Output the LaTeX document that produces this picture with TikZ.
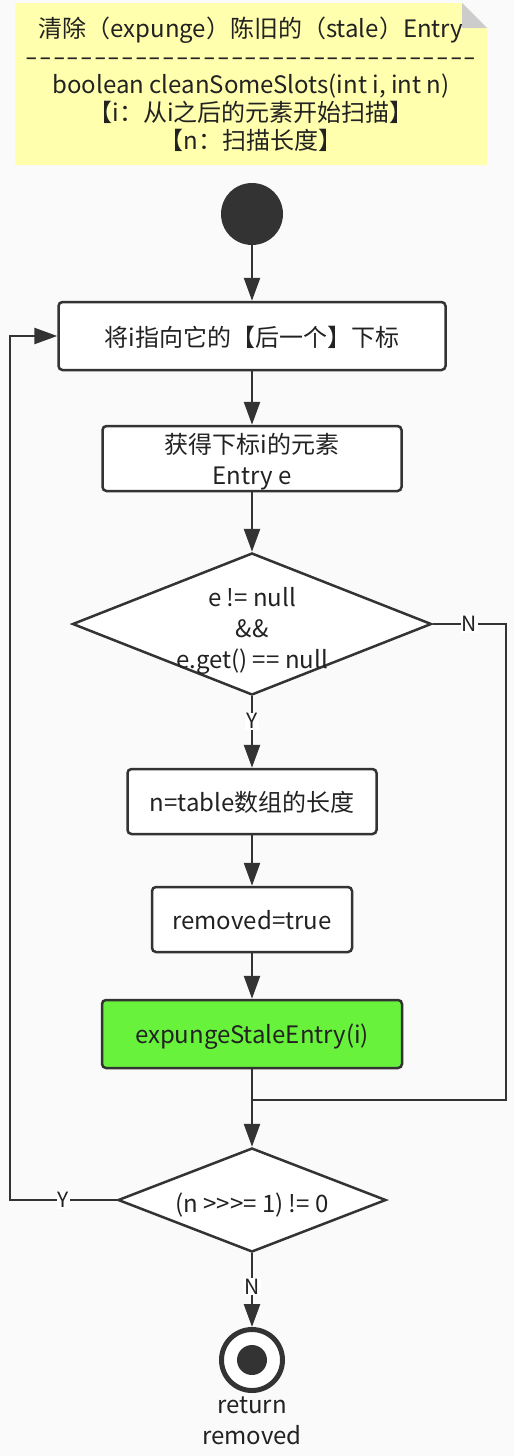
\documentclass[tikz,border=0pt]{standalone}
\usepackage{fontspec}
\setmainfont{Noto Sans CJK SC}
\usetikzlibrary{arrows.meta,shapes.geometric}
\definecolor{ln}{HTML}{333333}
\definecolor{tx}{HTML}{222222}
\definecolor{bg}{HTML}{FAFAFA}
\definecolor{notefill}{HTML}{FFFFAD}
\definecolor{foldgray}{HTML}{CCCCCC}
\definecolor{hl}{HTML}{68F23C}
\newcommand\dashrow{\foreach \k in {1,...,32}{\scalebox{1.5}[1]{-}\kern1.2pt}\scalebox{1.5}[1]{-}}
\begin{document}
\begin{tikzpicture}[x=1pt,y=-1pt,
  every node/.style={font=\fontsize{24}{31}\selectfont, text=tx},
  proc/.style={draw=ln, line width=2.5pt, rounded corners=4pt, fill=white, align=center, inner sep=0pt, text depth=0pt},
  dia/.style={diamond, draw=ln, line width=2.5pt, fill=white, inner sep=0pt},
  arr/.style={draw=ln, line width=2.5pt, -{Triangle[width=16pt,length=23pt]}},
  conn/.style={draw=ln, line width=2.5pt},
  lab/.style={fill=white, inner sep=1pt, font=\fontsize{21}{22}\selectfont}
]
\fill[bg] (0,0) rectangle (514,1456);
\useasboundingbox (0,0) rectangle (514,1456);
% note
\fill[notefill] (15,3) -- (462,3) -- (487,28) -- (487,165) -- (15,165) -- cycle;
\fill[foldgray] (462,3) -- (487,28) -- (462,28) -- cycle;
\node[align=center, font=\fontsize{24}{28}\selectfont] (note) at (251,84)
  {清除（expunge）陈旧的（stale）Entry\\\dashrow\\boolean cleanSomeSlots(int i, int n)\\【i：从i之后的元素开始扫描】\\【n：扫描长度】};
% nodes
\node[circle, fill=ln, minimum size=62pt, inner sep=0pt] (start) at (252,214) {};
\node[proc, minimum width=387pt, minimum height=68pt] (b1) at (252,336) {将i指向它的【后一个】下标};
\node[proc, minimum width=299pt, minimum height=65pt] (b2) at (252,458.5) {获得下标i的元素\\Entry e};
\node[dia, minimum width=359pt, minimum height=142pt] (d1) at (252,624) {};
\node[align=center] (d1t) at (252,631) {e != null\\\&\&\\e.get() == null};
\node[proc, minimum width=249pt, minimum height=65pt] (b3) at (252,801.5) {n=table数组的长度};
\node[proc, minimum width=200pt, minimum height=65pt] (b4) at (252,919.5) {removed=true};
\node[proc, fill=hl, minimum width=300pt, minimum height=68pt] (b5) at (252,1034) {expungeStaleEntry(i)};
\node[dia, minimum width=268pt, minimum height=104pt] (d2) at (252,1200) {};
\node (d2t) at (252,1205) {(n >\kern0pt>\kern0pt>= 1) != 0};
\node[circle, draw=ln, line width=5pt, fill=white, minimum size=61pt, inner sep=0pt] (end) at (252,1360) {};
\node[circle, fill=ln, minimum size=30pt, inner sep=0pt] (enddot) at (end) {};
\node[align=center] (ret) at (252,1421) {return\\removed};
\coordinate (j) at (252,1100);
\coordinate (nr) at (506,1100);
\coordinate (lt) at (10,336);
% connectors
\draw[arr] (start) -- (b1);
\draw[arr] (b1) -- (b2);
\draw[arr] (b2) -- (d1.north);
\draw[arr] (d1.south) -- node[lab, pos=0.35] (ly1) {Y} (b3);
\draw[arr] (b3) -- (b4);
\draw[arr] (b4) -- (b5);
\draw[arr] (b5) -- (d2.north);
\draw[conn] (d1.east) -| node[lab, pos=0.25] (ln1) {N} (nr) -- (j);
\draw[arr] (d2.west) -| node[lab, pos=0.25] (ly2) {Y} (lt) -- (b1.west);
\draw[arr] (d2.south) -- node[lab, pos=0.45] (ln2) {N} (end);
\end{tikzpicture}
\end{document}
